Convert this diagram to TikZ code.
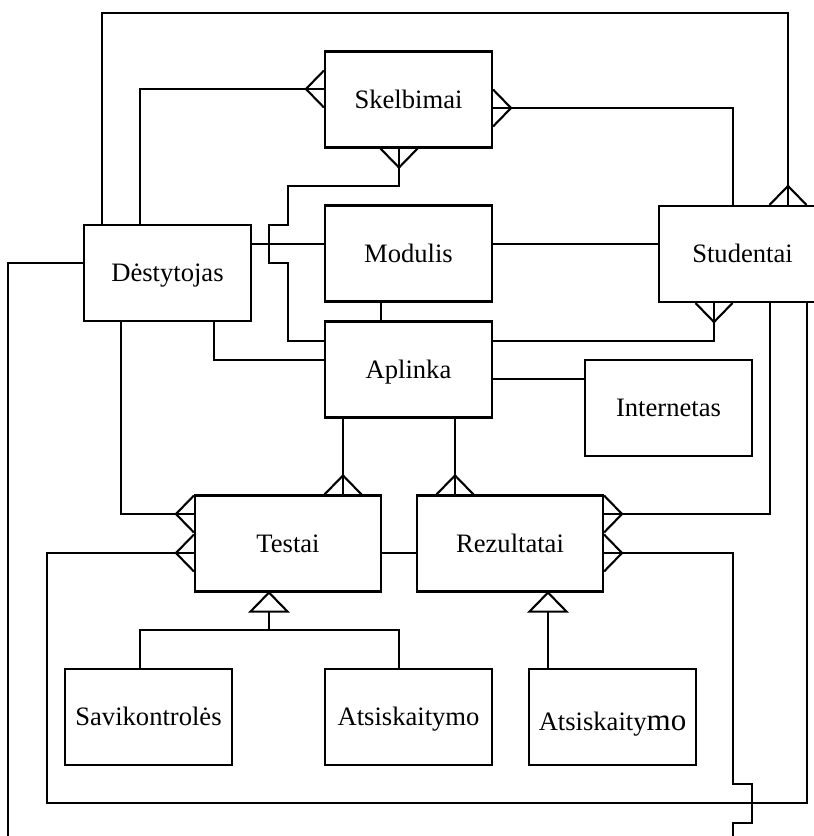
\documentclass[tikz,border=0pt]{standalone}
\usepackage{fontspec}
\setmainfont{Liberation Serif}
\usetikzlibrary{calc}
\begin{document}
\begin{tikzpicture}[x=1pt,y=-1pt,line width=2.1pt,
  entity/.style={draw,rectangle,inner sep=0pt,minimum width=167pt,minimum height=96pt,
    font=\fontsize{26.6}{30}\selectfont,text height=17.6pt,text depth=0pt},
  % crow's feet: the point sits on the box edge, the prongs open towards the box
  crowup/.pic={\draw (-18.5,0) -- (0,-19) -- (18.5,0);},
  crowdown/.pic={\draw (-18.5,0) -- (0,19) -- (18.5,0);},
  crowleft/.pic={\draw (0,-18.5) -- (-18,0) -- (0,18.5);},
  crowright/.pic={\draw (0,-18.5) -- (18,0) -- (0,18.5);},
  % generalisation triangle hanging below a parent box
  isa/.pic={\draw (0,0) -- (-18.5,19) -- (18.5,19) -- cycle;}
]
\useasboundingbox (0,0) rectangle (814,836);
\clip (0,0) rectangle (814,836);

% entities
\node[entity] (sk)  at (408.5,99.5)  {Skelbimai};
\node[entity] (stu) at (742.5,254)   {Studentai};
\node[entity] (des) at (167.5,273)   {Dėstytojas};
\node[entity] (mod) at (408.5,253.5) {Modulis};
\node[entity] (apl) at (408.5,369.5) {Aplinka};
\node[entity] (int) at (668.5,408)   {Internetas};
\node[entity,minimum width=186pt] (tes) at (288,543.5) {Testai};
\node[entity,minimum width=186pt] (rez) at (510,543.5) {Rezultatai};
\node[entity] (sav) at (148.5,717) {Savikontrolės};
\node[entity] (atm) at (408.5,717) {Atsiskaitymo};
\node[entity,text height=27pt] (ats) at (612.5,717) {Atsiskaity{\fontsize{31}{34}\selectfont mo}};

% Destytojas -- Studentai (around the top)
\draw (des.north -| 102,0) -- (102,13) -| (stu.north -| 788,0);
\pic at (stu.north -| 788,0) {crowup};

% Destytojas -- Skelbimai
\draw (des.north -| 140,0) |- (sk.west |- 0,89);
\pic at (sk.west |- 0,89) {crowleft};

% Skelbimai -- Studentai
\draw (sk.east |- 0,108) -| (stu.north -| 733,0);
\pic at (sk.east |- 0,108) {crowright};

% Skelbimai -- Aplinka, hopping over the Destytojas--Modulis line
\draw (sk.south -| 399,0) |- (288,186) -- (288,225) -- (269,225) -- (269,263)
  -- (288,263) |- (apl.west |- 0,341);
\pic at (sk.south -| 399,0) {crowdown};

% Destytojas -- Modulis -- Studentai
\draw (des.east |- 0,244) -- (mod.west |- 0,244);
\draw (mod.east |- 0,244) -- (stu.west |- 0,244);

% Modulis -- Aplinka
\draw (mod.south -| 381,0) -- (apl.north -| 381,0);

% Aplinka -- Studentai
\draw (apl.east |- 0,341) -| (stu.south -| 714,0);
\pic at (stu.south -| 714,0) {crowdown};

% Aplinka -- Internetas
\draw (apl.east |- 0,379) -- (int.west |- 0,379);

% Destytojas -- Aplinka
\draw (des.south -| 214,0) |- (apl.west |- 0,360);

% Destytojas -- Rezultatai (around the bottom)
\draw (des.west |- 0,263) -| (8,850) -| (733,823) -- (752,823) -- (752,784)
  -- (733,784) |- (rez.east |- 0,553);
\pic at (rez.east |- 0,553) {crowright};

% Destytojas -- Testai
\draw (des.south -| 121,0) |- (tes.west |- 0,514);
\pic at (tes.west |- 0,514) {crowleft};

% Testai -- Studentai
\draw (tes.west |- 0,553) -| (47,803) -| (stu.south -| 807,0);
\pic at (tes.west |- 0,553) {crowleft};

% Aplinka -- Testai, Aplinka -- Rezultatai
\draw (apl.south -| 343,0) -- (tes.north -| 343,0);
\pic at (tes.north -| 343,0) {crowup};
\draw (apl.south -| 455,0) -- (rez.north -| 455,0);
\pic at (rez.north -| 455,0) {crowup};

% Testai -- Rezultatai
\draw (tes.east |- 0,553) -- (rez.west |- 0,553);

% Rezultatai -- Studentai
\draw (rez.east |- 0,514) -| (stu.south -| 770,0);
\pic at (rez.east |- 0,514) {crowright};

% Testai specialisations
\pic at (tes.south -| 269,0) {isa};
\coordinate (tb) at ($(tes.south -| 269,0)+(0,19)$);
\draw (tb) -- (tb |- 0,630);
\draw (sav.north -| 140,0) |- (tb |- 0,630) -| (atm.north -| 399,0);

% Rezultatai specialisation
\pic at (rez.south -| 548,0) {isa};
\coordinate (rb) at ($(rez.south -| 548,0)+(0,19)$);
\draw (rb) -- (ats.north -| 548,0);
\end{tikzpicture}
\end{document}
